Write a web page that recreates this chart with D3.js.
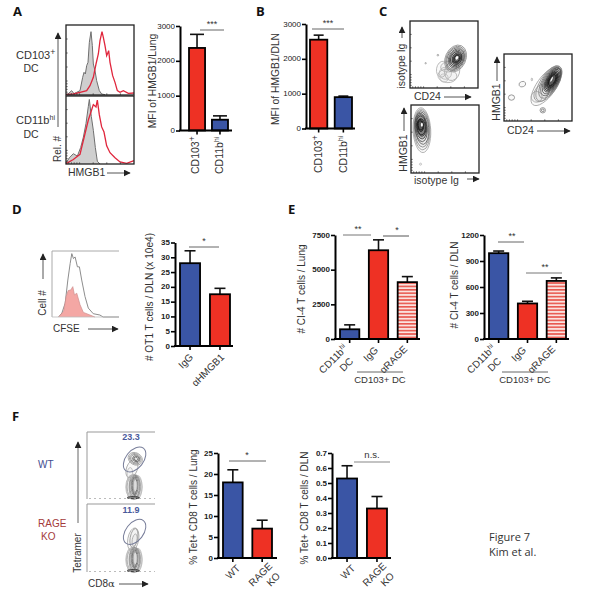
<!DOCTYPE html>
<html><head><meta charset="utf-8">
<script src="https://cdnjs.cloudflare.com/ajax/libs/d3/7.8.5/d3.min.js"></script>
<style>
html,body{margin:0;padding:0;background:#fff}
svg{display:block}
text{font-family:"Liberation Sans",Arial,sans-serif;fill:#333}
</style></head><body>
<svg id="c" width="591" height="603"></svg>
<script>
// ---------- values ----------
const catsA=["CD103","CD11b"], meansA=[2370,310], upperA=[2760,420];
const meansB=[2550,900], upperB=[2680,930];
const ticks3000=[0,1000,2000,3000];
const catsD=["IgG","αHMGB1"], meansD=[28,17.5], upperD=[32.2,19.5];
const ticksD=[0,5,10,15,20,25,30,35];
const catsE=["CD11b","IgG","αRAGE"];
const meansE1=[700,6400,4100], upperE1=[1020,7150,4500], ticksE1=[0,2500,5000,7500];
const meansE2=[990,410,670], upperE2=[1015,435,705], ticksE2=[0,300,600,900,1200];
const catsF=["WT","RAGE KO"];
const meansF1=[18,7], upperF1=[21,9], ticksF1=[0,5,10,15,20,25];
const meansF2=[0.53,0.33], upperF2=[0.615,0.41], ticksF2=[0,.1,.2,.3,.4,.5,.6,.7];
// histogram traces: [channel, count]
const histATopGrey=[[0,2],[7,4],[17,13],[24,4],[32,8],[42,13],[50,53],[54,68],[58,63],[62,88],[66,98],[70,158],[75,190],[79,148],[82,93],[87,73],[92,43],[100,13],[107,3],[117,1]];
const histATopRed=[[0,1],[22,3],[42,8],[62,13],[72,28],[82,53],[90,93],[97,123],[102,163],[108,190],[112,173],[117,148],[122,118],[128,133],[132,98],[140,58],[147,38],[154,13],[162,8],[172,13],[187,5],[204,6]];
const histABotGrey=[[0,3],[10,18],[22,30],[34,23],[44,48],[52,78],[60,118],[67,168],[70,188],[76,138],[82,98],[88,48],[94,8],[102,0]];
const histABotRed=[[0,1],[22,13],[42,28],[57,88],[67,128],[77,158],[82,173],[90,166],[94,186],[100,143],[107,108],[114,93],[122,53],[132,33],[147,18],[162,6],[182,2],[204,10]];
const histDGrey=[[20,0],[30,12],[40,42],[48,112],[55,162],[60,192],[65,177],[70,182],[77,152],[83,152],[90,112],[100,62],[110,27],[125,10],[145,6],[155,0],[203,0]];
const histDPink=[[20,0],[35,17],[43,62],[49,80],[57,82],[63,92],[68,67],[75,72],[85,37],[95,14],[115,6],[130,0]];
// contour levels: [cx, cy, rx, ry, tilt, colour] on 0-100 axes
const contourC1=[[55,18,14,10,5,"#b5b5b5"],[47,28,8,12,10,"#b5b5b5"],[62,25,11,14,15,"#b0b0b0"],[52,22,9,9,0,"#bbb"],[57,32,12,8,-10,"#b5b5b5"],[50,15,6,6,0,"#c0c0c0"],
 [67,44,15,21,25,"#999"],[67,44,13.5,19,25,"#888"],[67,44,12,17,25,"#777"],[68,44,11,15,25,"#666"],[68,44,9.5,13,25,"#555"],[68,44,8,11,25,"#444"],[69,44,6.5,9,25,"#333"],[69,44,5,7,25,"#333"],[69,44,3.8,5.5,25,"#222"],[69,45,1.8,2.8,25,"#fff"],[41,49,1.2,1.2,0,"#999"],[23,37,1,1,0,"#999"]];
const contourC2=[[16,63,13,33,-3,"#aaa"],[16,64,12,30,-3,"#999"],[16,65,11,27,-3,"#888"],[16,66,10,24,-5,"#666"],[15,67,9,21,-5,"#555"],[15,68,8,18,-5,"#444"],[15,69,7,15,-5,"#333"],[15,68,6,12,-5,"#222"],[14,70,4.5,9,-5,"#222"],[14,70,3.5,7,-5,"#111"],[16,71,1.5,3,0,"#fff"],[14,13,1.5,1.5,0,"#bbb"]];
const contourC3=[[62,52,14,34,35,"#aaa"],[48,36,8,8,0,"#aaa"],[55,42,10,14,30,"#999"],[66,56,13,30,32,"#999"],[68,58,12,27,30,"#888"],[69,59,11,24,30,"#777"],[70,60,10,22,30,"#666"],[71,61,9,20,30,"#555"],[71,61,8,18,30,"#444"],[71,61,7,15.5,30,"#333"],[71,61,6,13,28,"#222"],[71,61,5,11,28,"#222"],[71,61,4,9,28,"#111"],[70,62,1,4,28,"#fff"],[27,55,5,4,-20,"#999"],[11,35,4.5,4,0,"#888"],[57,16,4,4,0,"#888"],[57,16,2,2,0,"#777"],[41,62,1,2,0,"#aaa"]];
const contourF1=[[64,18,6,17,0,"#bbb"],[75,18,6,17,0,"#bbb"],[69,18,12,19,0,"#bbb"],[69,18,10,18,0,"#aaa"],[67,18,5,16,0,"#999"],[73,19,5,16,0,"#999"],[70,19,7,17,0,"#888"],[70,20,5,15,0,"#777"],[70,20,3.5,13,0,"#666"],[71,20,1.5,8,0,"#ddd"],[68,2,9,1.5,0,"#222"],[66,45,8,14,20,"#aaa"],[63,38,4,9,5,"#bbb"],[71,60,11,9,30,"#aaa"],[71,60,9,7.5,30,"#999"],[71,60,7,6,30,"#888"],[72,60,5,4,30,"#666"],[72,60,3,2.5,30,"#666"]];
const contourF2=[[64,18,6,17,0,"#bbb"],[75,18,6,17,0,"#bbb"],[69,18,12,19,0,"#bbb"],[69,18,10,18,0,"#aaa"],[67,18,5,16,0,"#999"],[73,19,5,16,0,"#999"],[70,19,7,17,0,"#888"],[70,20,5,15,0,"#777"],[70,20,3.5,13,0,"#666"],[71,20,1.5,8,0,"#ddd"],[68,2,9,1.5,0,"#222"],[68,48,8,17,10,"#aaa"],[69,50,5.5,14,10,"#999"],[70,47,3.5,9,10,"#aaa"]];
const gate=[70,59,21,13,-52];
const boxTicks=[4,8,12,16,20,40,60,80];

// ---------- drawing ----------
const BLUE="#3a55a5",RED="#ee3124",INK="#333";
const svg=d3.select("#c");
const defs=svg.append("defs");
const pat=defs.append("pattern").attr("id","hatch").attr("patternUnits","userSpaceOnUse").attr("width",6).attr("height",3.4);
pat.append("rect").attr("width",6).attr("height",3.4).attr("fill","#fbe3df");
pat.append("rect").attr("width",6).attr("height",1.6).attr("fill","#e8584f");
const soft=defs.append("filter").attr("id","soft");soft.append("feGaussianBlur").attr("stdDeviation",0.35);
const soft2=defs.append("filter").attr("id","soft2");soft2.append("feGaussianBlur").attr("stdDeviation",0.5);
const mk=defs.append("marker").attr("id","ah").attr("viewBox","0 0 10 10").attr("refX",9).attr("refY",5).attr("markerWidth",7).attr("markerHeight",7).attr("markerUnits","userSpaceOnUse").attr("orient","auto");
mk.append("path").attr("d","M0,0L10,5L0,10z").attr("fill","#222");

function txt(s,x,y,o={}){
  const t=svg.append("text").attr("x",x).attr("y",y).attr("font-size",o.size||10).attr("text-anchor",o.anchor||"start").attr("dominant-baseline","middle");
  if(o.rot!=null)t.attr("transform",`rotate(${o.rot},${x},${y})`);
  if(o.color)t.style("fill",o.color);
  if(o.weight)t.attr("font-weight",o.weight);
  if(o.family)t.style("font-family",o.family);
  if(o.sup){t.append("tspan").text(s);t.append("tspan").text(o.sup).attr("font-size",(o.size||10)*(o.supScale||.65)).attr("dy",-3);}
  else t.text(s);
  return t;
}
function arrow(x1,y1,x2,y2,c="#555"){
  svg.append("line").attr("x1",x1).attr("y1",y1).attr("x2",x2).attr("y2",y2).attr("stroke",c).attr("stroke-width",1).attr("marker-end","url(#ah)");
}
function rule(x1,x2,y,c="#666",w=1){svg.append("line").attr("x1",x1).attr("x2",x2).attr("y1",y).attr("y2",y).attr("stroke",c).attr("stroke-width",w);}

function bars(o){
  const g=svg.append("g");
  const y=d3.scaleLinear().domain(o.domain).range([o.y0,o.y1]);
  const x=d3.scaleBand().domain(o.cats).range([o.xa,o.xb]).paddingInner(o.pad);
  const ya=d3.axisLeft(y).tickValues(o.ticks).tickSize(4).tickSizeOuter(0).tickPadding(1).tickFormat(o.fmt||d3.format("d"));
  const a=g.append("g").attr("transform",`translate(${o.ax},0)`).call(ya);
  a.select(".domain").attr("stroke","#000").attr("stroke-width",2);
  a.selectAll(".tick line").attr("stroke","#000").attr("stroke-width",1.6);
  a.selectAll("text").attr("font-size",o.tick||8).attr("font-weight",o.tickWeight||"normal").style("fill","#222").attr("dominant-baseline","middle").attr("dy",0);
  const xa=d3.axisBottom(x).tickSize(4).tickSizeOuter(0).tickFormat("");
  const b=g.append("g").attr("transform",`translate(0,${o.y0})`).call(xa);
  b.select(".domain").remove();
  b.selectAll(".tick line").attr("stroke","#000").attr("stroke-width",1.6);
  o.cats.forEach((c,i)=>{
    const cx=x(c)+x.bandwidth()/2;
    g.append("line").attr("x1",cx).attr("x2",cx).attr("y1",y(o.means[i])).attr("y2",y(o.upper[i])).attr("stroke","#111").attr("stroke-width",1.6);
    g.append("line").attr("x1",cx-o.cap/2).attr("x2",cx+o.cap/2).attr("y1",y(o.upper[i])).attr("y2",y(o.upper[i])).attr("stroke","#111").attr("stroke-width",1.6);
    g.append("rect").attr("x",x(c)).attr("y",y(o.means[i])).attr("width",x.bandwidth()).attr("height",y(0)-y(o.means[i])).attr("fill",o.fills[i]).attr("stroke","#000").attr("stroke-width",1.8);
  });
  g.append("line").attr("x1",o.ax-1).attr("x2",o.base).attr("y1",o.y0).attr("y2",o.y0).attr("stroke","#000").attr("stroke-width",2);
}

function hist(box,layers,xd,yd){
  const x=d3.scaleLinear().domain(xd).range([box[0],box[2]]);
  const y=d3.scaleLinear().domain(yd).range([box[3],box[1]]);
  const area=d3.area().x(d=>x(d[0])).y0(y(0)).y1(d=>y(d[1]));
  const line=d3.line().x(d=>x(d[0])).y(d=>y(d[1]));
  const g=svg.append("g").attr("filter","url(#soft)");
  layers.forEach(l=>{
    if(l.fill)g.append("path").attr("d",area(l.data)).attr("fill",l.fill).attr("stroke","none");
    g.append("path").attr("d",line(l.data)).attr("fill","none").attr("stroke",l.stroke).attr("stroke-width",l.w||1);
  });
}
function frame(b,c="#222",w=1.3){svg.append("rect").attr("x",b[0]).attr("y",b[1]).attr("width",b[2]-b[0]).attr("height",b[3]-b[1]).attr("fill","none").attr("stroke",c).attr("stroke-width",w);}
function boxAxes(b){
  const x=d3.scaleLinear().domain([0,100]).range([b[0],b[2]]),y=d3.scaleLinear().domain([0,100]).range([b[3],b[1]]);
  const g=svg.append("g").attr("stroke","#333").attr("stroke-width",.8);
  boxTicks.forEach(t=>{
    g.append("line").attr("x1",x(t)).attr("x2",x(t)).attr("y1",b[3]).attr("y2",b[3]-1.6);
    g.append("line").attr("y1",y(t)).attr("y2",y(t)).attr("x1",b[0]).attr("x2",b[0]+1.6);
  });
}
function contours(b,levels){
  const x=d3.scaleLinear().domain([0,100]).range([b[0],b[2]]),y=d3.scaleLinear().domain([0,100]).range([b[3],b[1]]);
  const sx=(b[2]-b[0])/100,sy=(b[3]-b[1])/100;
  const pale=c=>c==="#fff"||c==="#ddd";
  const dark=c=>["#111","#222","#333","#444"].includes(c);
  svg.append("g").attr("filter","url(#soft2)").selectAll("ellipse").data(levels).join("ellipse")
    .attr("rx",d=>d[2]*sx).attr("ry",d=>d[3]*sy)
    .attr("transform",d=>`translate(${x(d[0])},${y(d[1])}) rotate(${d[4]})`)
    .attr("fill",d=>pale(d[5])?d[5]:dark(d[5])?"#222":"#888")
    .attr("fill-opacity",d=>pale(d[5])?1:dark(d[5])?.22:.05)
    .attr("stroke",d=>d[5]==="#fff"?"none":d[5]).attr("stroke-width",.85);
}

// panel letters
[["A",13,13],["B",256,13],["C",379,13],["D",12,211],["E",288,211],["F",12,418]].forEach(d=>
  txt(d[0],d[1],d[2],{size:13,weight:"bold",family:"'Open Sans',sans-serif",color:"#111"}));

// ---- A ----
const boxA1=[66,25,134,95],boxA2=[66,96,134,164];
hist(boxA1,[{data:histATopGrey,fill:"#cfcfcf",stroke:"#6f6f6f"},{data:histATopRed,stroke:"#e0263c",w:1.3}],[0,204],[0,210]);
hist(boxA2,[{data:histABotGrey,fill:"#cfcfcf",stroke:"#6f6f6f"},{data:histABotRed,stroke:"#e0263c",w:1.3}],[0,204],[0,198]);
frame(boxA1);frame(boxA2);boxAxes(boxA1);boxAxes(boxA2);
txt("CD103",16,56,{size:11,sup:"+",supScale:.8});txt("DC",31,69.5,{size:10.5,anchor:"middle"});
txt("CD11b",16,121,{size:11,sup:"hi"});txt("DC",31,135,{size:10.5,anchor:"middle"});
arrow(58,127,58,33);
txt("Rel. #",58.5,149,{rot:-90,anchor:"middle",size:10});
txt("HMGB1",68,173,{size:10.5});arrow(107,173,130,173);
bars({cats:catsA,means:meansA,upper:upperA,domain:[0,3000],ticks:ticks3000,y0:130.5,y1:26,xa:189,xb:228,pad:.3,ax:180,base:232,cap:14,fills:[RED,BLUE]});
rule(200,224,30);txt("***",212,25,{anchor:"middle",size:9});
txt("MFI of HMGB1/Lung",153,81,{rot:-90,anchor:"middle",size:10.3});
txt("CD103",196,174,{rot:-90,size:10.5,sup:"+",supScale:.8});
txt("CD11b",220,174,{rot:-90,size:10.5,sup:"hi"});

// ---- B ----
bars({cats:catsA,means:meansB,upper:upperB,domain:[0,3000],ticks:ticks3000,y0:128.5,y1:24,xa:310,xb:352,pad:.3,ax:306,base:355,cap:10,fills:[RED,BLUE]});
rule(312,344,29);txt("***",328,24,{anchor:"middle",size:9});
txt("MFI of HMGB1/DLN",276,79,{rot:-90,anchor:"middle",size:10.3});
txt("CD103",319,173,{rot:-90,size:10.5,sup:"+",supScale:.8});
txt("CD11b",344,173,{rot:-90,size:10.5,sup:"hi"});

// ---- C ----
const boxC1=[410,21,478,88],boxC2=[411,105,479,173],boxC3=[504,54,572,121];
contours(boxC1,contourC1);contours(boxC2,contourC2);contours(boxC3,contourC3);
[boxC1,boxC2,boxC3].forEach(b=>{frame(b);boxAxes(b);});
txt("isotype Ig",402,66,{rot:-90,anchor:"middle",size:10.5});arrow(402,38,402,27);
txt("CD24",414,97,{size:10.5});arrow(444,97,471,97);
txt("HMGB1",404,153,{rot:-90,anchor:"middle",size:10.5});arrow(404,131,404,108);
txt("isotype Ig",414,181,{size:10.5});arrow(467,179,479,179);
txt("HMGB1",497,102,{rot:-90,anchor:"middle",size:10.5});arrow(497,81,497,57);
txt("CD24",507,131,{size:10.5});arrow(537,131,570,131);

// ---- D ----
const boxD=[52,251,119,317];
hist(boxD,[{data:histDGrey,stroke:"#808080",w:.9},{data:histDPink,fill:"#f4a7a4",stroke:"#cf8d8d",w:.7}],[0,203],[0,200]);
svg.append("path").attr("d",`M${boxD[0]},${boxD[3]}V${boxD[1]}H${boxD[2]}`).attr("fill","none").attr("stroke","#aaa").attr("stroke-width",1);
rule(52,119,317,"#bbb",.8);
txt("Cell #",43,303,{rot:-90,anchor:"middle",size:10});arrow(43,279,43,254);
txt("CFSE",53,329,{size:10});arrow(88,329,118,329);
bars({cats:catsD,means:meansD,upper:upperD,domain:[0,35],ticks:ticksD,y0:346,y1:242.5,xa:180,xb:230,pad:.33,ax:175,base:233,cap:11,fills:[BLUE,RED],tickWeight:"bold"});
rule(189,219,247);txt("*",204,242,{anchor:"middle",size:9});
txt("# OT1 T cells / DLN (x 10e4)",150,297,{rot:-90,anchor:"middle",size:10.1});
txt("IgG",192,356,{rot:-45,anchor:"end",size:10});
txt("αHMGB1",223,356,{rot:-45,anchor:"end",size:10});

// ---- E ----
bars({cats:catsE,means:meansE1,upper:upperE1,domain:[0,7500],ticks:ticksE1,y0:339,y1:235,xa:340,xb:417,pad:.33,ax:335,base:420,cap:11,fills:[BLUE,RED,"url(#hatch)"],tickWeight:"bold"});
rule(343,371,235,"#777");txt("**",358,230,{anchor:"middle",size:9});
rule(383,409,236,"#555");txt("*",397,231,{anchor:"middle",size:9});
txt("# CI-4 T cells / Lung",302,289,{rot:-90,anchor:"middle",size:10});
txt("CD11b",346,347,{rot:-45,anchor:"end",size:10,sup:"hi"});txt("DC",352,360,{rot:-45,anchor:"end",size:10});
txt("IgG",377,349,{rot:-45,anchor:"end",size:10});
txt("αRAGE",406,348,{rot:-45,anchor:"end",size:10});
rule(357,403,372,"#666");txt("CD103+ DC",380,380,{anchor:"middle",size:9.5});

bars({cats:catsE,means:meansE2,upper:upperE2,domain:[0,1200],ticks:ticksE2,y0:339,y1:235,xa:489,xb:566,pad:.33,ax:484,base:569,cap:11,fills:[BLUE,RED,"url(#hatch)"],tickWeight:"bold"});
rule(498,524,242,"#666");txt("**",512,237,{anchor:"middle",size:9});
rule(526,562,273,"#777");txt("**",545,268,{anchor:"middle",size:9});
txt("# CI-4 T cells / DLN",455,285,{rot:-90,anchor:"middle",size:10});
txt("CD11b",494,347,{rot:-45,anchor:"end",size:10,sup:"hi"});txt("DC",500,360,{rot:-45,anchor:"end",size:10});
txt("IgG",525,349,{rot:-45,anchor:"end",size:10});
txt("αRAGE",554,348,{rot:-45,anchor:"end",size:10});
rule(502,548,372,"#666");txt("CD103+ DC",525,380,{anchor:"middle",size:9.5});

// ---- F ----
const boxF1=[87,432,155,499],boxF2=[87,504,155,572];
contours(boxF1,contourF1);contours(boxF2,contourF2);
[boxF1,boxF2].forEach(b=>{
  const x=d3.scaleLinear().domain([0,100]).range([b[0],b[2]]),y=d3.scaleLinear().domain([0,100]).range([b[3],b[1]]);
  svg.append("path").attr("d",`M${b[0]},${b[3]}V${b[1]}H${b[2]}`).attr("fill","none").attr("stroke","#999").attr("stroke-width",1);
  svg.append("line").attr("x1",b[0]+2).attr("x2",b[2]).attr("y1",b[3]-.5).attr("y2",b[3]-.5).attr("stroke","#aaa").attr("stroke-dasharray","2 3").attr("stroke-width",.8);
  svg.append("ellipse").attr("rx",gate[2]*.68).attr("ry",gate[3]*.68).attr("transform",`translate(${x(gate[0])},${y(gate[1])}) rotate(${gate[4]})`).attr("fill","none").attr("stroke","#777d99").attr("stroke-width",1);
});
txt("23.3",131,438,{anchor:"middle",size:9,weight:"bold",color:"#4a5a9c"});
txt("11.9",131,511,{anchor:"middle",size:9,weight:"bold",color:"#4a5a9c"});
txt("WT",38,465,{size:10,color:"#3f4d90"});
txt("RAGE",38,524,{size:10,color:"#a33a3a"});txt("KO",41,537,{size:10,color:"#a33a3a"});
arrow(78,523,78,442,"#666");
txt("Tetramer",78,553,{rot:-90,anchor:"middle",size:10});
txt("CD8",88,584,{size:10}).append("tspan").text("α").style("font-family","'DejaVu Serif',serif");
arrow(119,584,148,584);

bars({cats:catsF,means:meansF1,upper:upperF1,domain:[0,25],ticks:ticksF1,y0:558,y1:453,xa:223,xb:272,pad:.33,ax:218,base:277,cap:11,fills:[BLUE,RED],tickWeight:"bold"});
rule(229,266,461);txt("*",247,456,{anchor:"middle",size:9});
txt("% Tet+ CD8 T cells / Lung",194,507,{rot:-90,anchor:"middle",size:10});
txt("WT",239,567,{rot:-45,anchor:"end",size:10});
txt("RAGE",271,565,{rot:-45,anchor:"end",size:10});txt("KO",279,575,{rot:-45,anchor:"end",size:10});

bars({cats:catsF,means:meansF2,upper:upperF2,domain:[0,.7],ticks:ticksF2,y0:558,y1:453,xa:337,xb:387,pad:.33,ax:332,base:391,cap:11,fills:[BLUE,RED],tickWeight:"bold",fmt:d3.format(".1f")});
rule(354,390,462,"#888",1.2);txt("n.s.",372,455,{anchor:"middle",size:9.5});
txt("% Tet+ CD8 T cells / DLN",305,508,{rot:-90,anchor:"middle",size:10});
txt("WT",354,567,{rot:-45,anchor:"end",size:10});
txt("RAGE",385,565,{rot:-45,anchor:"end",size:10});txt("KO",393,575,{rot:-45,anchor:"end",size:10});

// note
txt("Figure 7",489,538,{size:11,family:"'Open Sans',sans-serif"});
txt("Kim et al.",489,553,{size:11,family:"'Open Sans',sans-serif"});
</script>
</body></html>
